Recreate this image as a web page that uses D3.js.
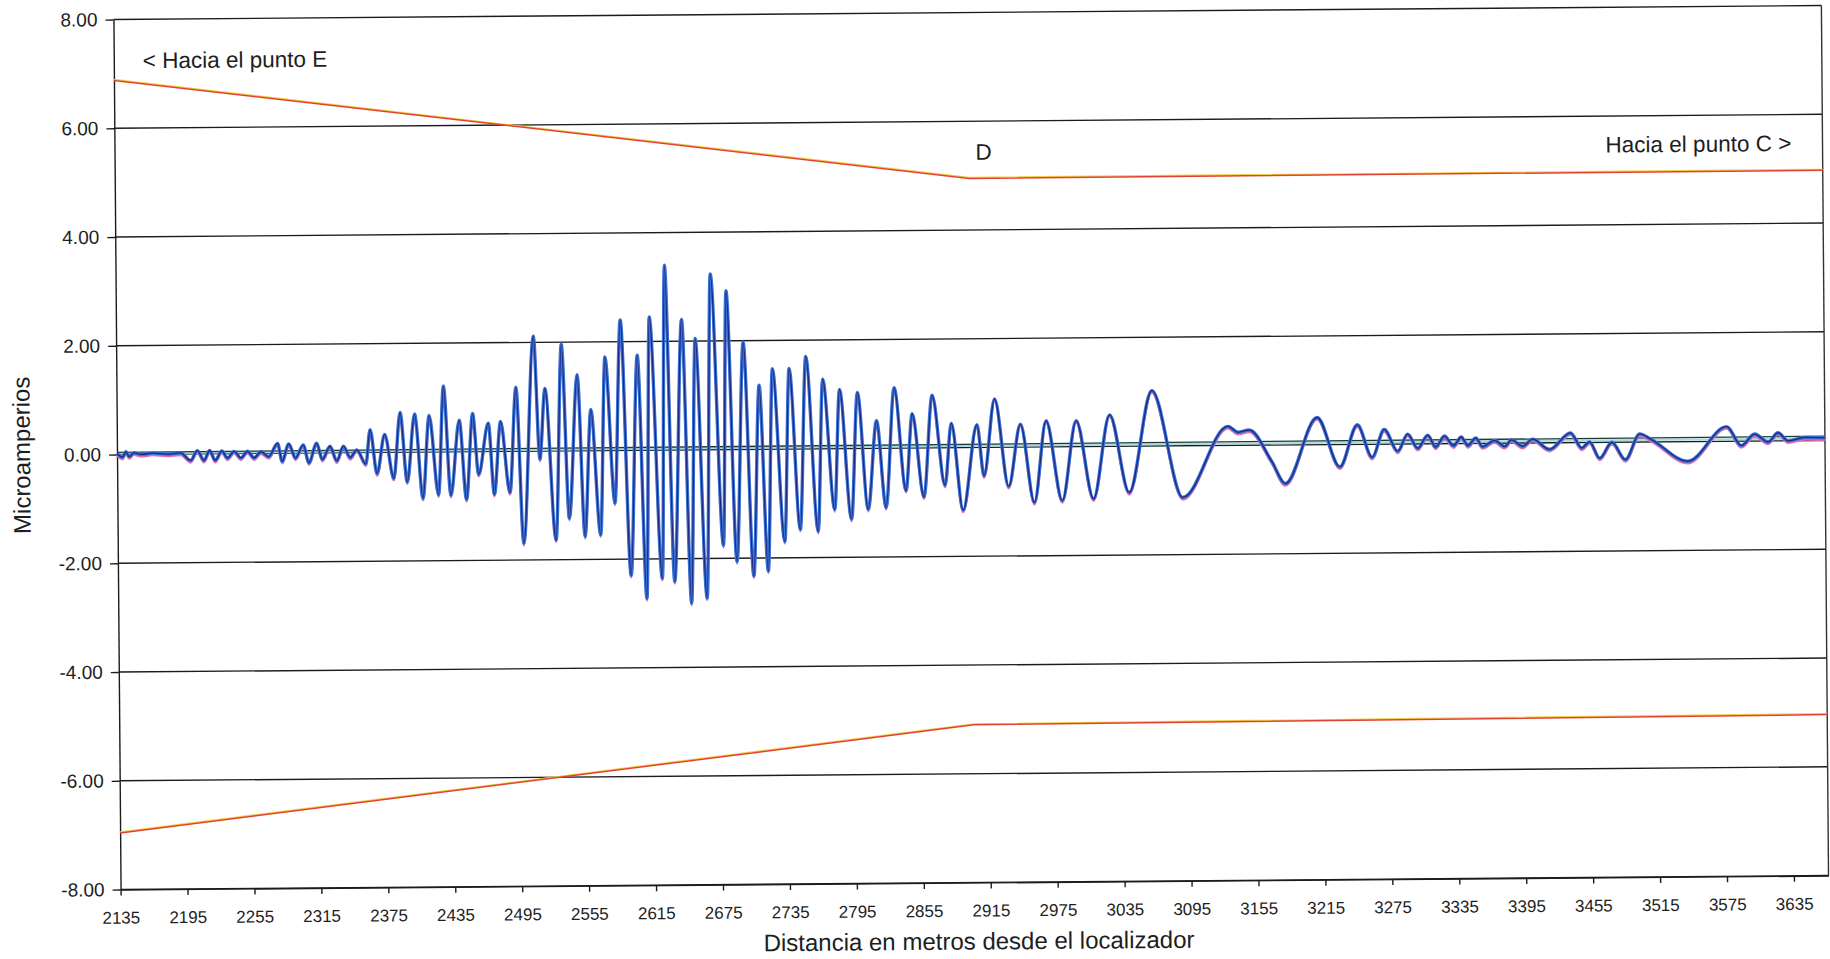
<!DOCTYPE html>
<html><head><meta charset="utf-8">
<script src="https://cdn.jsdelivr.net/npm/d3@7"></script>
<style>
html,body{margin:0;padding:0;background:#fff;}
svg{display:block;}
text{font-family:"Liberation Sans", Arial, sans-serif; fill:#1e1e1e;}
</style></head><body>
<svg id="chart" width="1830" height="959"></svg>
<script>
// ---------- data ----------
const yTicks = [8, 6, 4, 2, 0, -2, -4, -6, -8];
const xTicks = [2135, 2195, 2255, 2315, 2375, 2435, 2495, 2555, 2615, 2675, 2735, 2795, 2855,
  2915, 2975, 3035, 3095, 3155, 3215, 3275, 3335, 3395, 3455, 3515, 3575, 3635];

const signalDist = [2135, 2140, 2143, 2146, 2150, 2157, 2167, 2180, 2192,
  2201, 2207, 2213, 2218, 2223, 2229, 2234, 2240, 2246, 2252, 2258, 2264, 2271,
  2279, 2283, 2289, 2295, 2302, 2307, 2314, 2319, 2326, 2332, 2338, 2344, 2350,
  2358, 2362, 2368, 2375, 2383, 2389, 2395, 2402, 2409, 2415, 2423, 2428, 2434,
  2442, 2448, 2454, 2459, 2468, 2473, 2479, 2487, 2493, 2499, 2509, 2514, 2519,
  2528, 2534, 2540, 2548, 2554, 2560, 2568, 2573, 2581, 2587, 2595, 2602, 2609,
  2613, 2623, 2627, 2634, 2642, 2649, 2654, 2663, 2668, 2678, 2682, 2690, 2697,
  2705, 2711, 2718, 2723, 2733, 2738, 2747, 2753, 2763, 2768, 2778, 2783, 2793,
  2799, 2808, 2816, 2824, 2832, 2842, 2848, 2858, 2866, 2877, 2883, 2893, 2906,
  2912, 2922, 2934, 2945, 2957, 2968, 2982, 2995, 3010, 3025, 3042, 3063, 3090,
  3131, 3140, 3150, 3170, 3182, 3211, 3231, 3247, 3260, 3271, 3283, 3292, 3301,
  3310, 3317, 3325, 3333, 3340, 3346, 3353, 3359, 3370, 3379, 3385, 3395, 3404,
  3419, 3438, 3448, 3455, 3464, 3475, 3487, 3500, 3510, 3543, 3578, 3591, 3603,
  3615, 3624, 3633, 3648, 3666];
const signalVal = [0.02, -0.05, 0.05, -0.04, 0.03, 0.0, 0.02, 0.0, 0.02,
  -0.12, 0.06, -0.12, 0.06, -0.12, 0.05, -0.08, 0.04, -0.08, 0.04, -0.08, 0.03, -0.06,
  0.18, -0.15, 0.17, -0.09, 0.15, -0.18, 0.18, -0.12, 0.12, -0.15, 0.12, -0.09, 0.05,
  -0.21, 0.42, -0.39, 0.33, -0.48, 0.73, -0.55, 0.70, -0.85, 0.67, -0.79, 1.21, -0.80,
  0.58, -0.88, 0.70, -0.42, 0.52, -0.79, 0.55, -0.76, 1.18, -1.70, 2.12, -0.15, 1.15,
  -1.64, 1.96, -1.24, 1.40, -1.58, 0.76, -1.55, 1.72, -0.97, 2.40, -2.30, 1.75, -2.73,
  2.45, -2.36, 3.40, -2.42, 2.40, -2.82, 2.05, -2.73, 3.23, -1.76, 2.92, -2.06, 1.97,
  -2.33, 1.18, -2.24, 1.48, -1.70, 1.48, -1.48, 1.70, -1.52, 1.28, -1.12, 1.09, -1.30,
  1.03, -1.12, 0.51, -1.09, 1.11, -0.78, 0.63, -0.90, 0.97, -0.69, 0.45, -1.15, 0.42,
  -0.52, 0.89, -0.72, 0.42, -1.02, 0.48, -0.99, 0.48, -0.96, 0.58, -0.85, 1.02, -0.95,
  0.35, 0.24, 0.28, -0.30, -0.71, 0.50, -0.41, 0.36, -0.24, 0.27, -0.13, 0.18, -0.08,
  0.16, -0.06, 0.14, -0.04, 0.12, -0.04, 0.10, -0.06, 0.05, -0.06, 0.06, -0.06, 0.07,
  -0.12, 0.18, -0.10, 0.01, -0.29, 0.00, -0.32, 0.15, 0.05, -0.36, 0.27, -0.08, 0.13,
  -0.02, 0.15, 0.00, 0.06, 0.05];

// limit envelope (orange lines)
const limitDist = [2135, 2901, 3666];
const upperVal = [6.88, 4.95, 4.97];
const lowerVal = [-6.96, -5.10, -5.04];

// reference lines near zero
const refDist = [2135, 3666];
const refDarkVal = [0.04, 0.08];
const refLightVal = [0.02, 0.04];

const labelE = "< Hacia el punto E";
const labelD = "D";
const labelC = "Hacia el punto C >";
const yTitle = "Microamperios";
const xTitle = "Distancia en metros desde el localizador";

// ---------- drawing ----------
const plot = {left: 117, right: 1825, top: 13, bottom: 883};
const x = d3.scaleLinear().domain([2135, 3666]).range([plot.left, plot.right]);
const y = d3.scaleLinear().domain([-8, 8]).range([plot.bottom, plot.top]);

const svg = d3.select('#chart');
const root = svg.append('g').attr('transform', 'rotate(-0.47 915 450)');

// gridlines
root.append('g').selectAll('line').data(yTicks).join('line')
  .attr('x1', plot.left).attr('x2', plot.right)
  .attr('y1', d => y(d)).attr('y2', d => y(d))
  .attr('stroke', '#1c1c1c').attr('stroke-width', 1.4);
// right border
root.append('line')
  .attr('x1', plot.right).attr('x2', plot.right)
  .attr('y1', plot.top).attr('y2', plot.bottom)
  .attr('stroke', '#333').attr('stroke-width', 1.4);

// y axis
const yAxis = root.append('g').attr('transform', `translate(${plot.left},0)`)
  .call(d3.axisLeft(y).tickValues(yTicks).tickFormat(d => d.toFixed(2))
    .tickSizeInner(8).tickSizeOuter(0).tickPadding(8));
yAxis.selectAll('text').style('font-size', '19px').attr('fill', '#1e1e1e');
yAxis.selectAll('path,line').attr('stroke', '#1c1c1c').attr('stroke-width', 1.4);

// x axis
const xAxis = root.append('g').attr('transform', `translate(0,${plot.bottom})`)
  .call(d3.axisBottom(x).tickValues(xTicks).tickFormat(d3.format('d'))
    .tickSizeInner(6).tickSizeOuter(0).tickPadding(16));
xAxis.selectAll('text').style('font-size', '17px').attr('fill', '#1e1e1e');
xAxis.selectAll('path,line').attr('stroke', '#1c1c1c').attr('stroke-width', 1.4);

// helpers
const line2 = (ds, vs) => d3.line().x((d, i) => x(ds[i])).y(d => y(d));

// reference lines near zero
root.append('path').datum(refLightVal)
  .attr('d', line2(refDist, refLightVal)).attr('fill', 'none')
  .attr('stroke', '#a6dde3').attr('stroke-width', 2.2);
root.append('path').datum(refDarkVal)
  .attr('d', line2(refDist, refDarkVal)).attr('fill', 'none')
  .attr('stroke', '#1f3a33').attr('stroke-width', 1.3);

// limit envelope
[upperVal, lowerVal].forEach(vals => {
  root.append('path').datum(vals)
    .attr('d', line2(limitDist, vals)).attr('fill', 'none')
    .attr('transform', 'translate(0,-1)')
    .attr('stroke', '#f2cf48').attr('stroke-width', 1.3);
  root.append('path').datum(vals)
    .attr('d', line2(limitDist, vals)).attr('fill', 'none')
    .attr('stroke', '#e2432e').attr('stroke-width', 1.5);
});

// signal
const sigLine = d3.line().curve(d3.curveMonotoneX)
  .x((d, i) => x(signalDist[i])).y(d => y(d));
root.append('path').datum(signalVal).attr('d', sigLine)
  .attr('fill', 'none').attr('transform', 'translate(0,2)')
  .attr('stroke', '#e46fb0').attr('stroke-width', 2.4);
root.append('path').datum(signalVal).attr('d', sigLine)
  .attr('fill', 'none').attr('stroke', '#3a72d4').attr('stroke-width', 3.4);
root.append('path').datum(signalVal).attr('d', sigLine)
  .attr('fill', 'none').attr('stroke', '#1b2a86').attr('stroke-width', 1.3);

// annotations
root.append('text').attr('x', x(2161)).attr('y', y(7.1))
  .style('font-size', '22.5px').text(labelE);
root.append('text').attr('x', x(2914)).attr('y', y(5.29)).attr('text-anchor', 'middle')
  .style('font-size', '22.5px').text(labelD);
root.append('text').attr('x', x(3638)).attr('y', y(5.33)).attr('text-anchor', 'end')
  .style('font-size', '22.5px').text(labelC);

// axis titles
root.append('text')
  .attr('transform', `translate(30,${(plot.top + plot.bottom) / 2}) rotate(-90)`)
  .attr('text-anchor', 'middle').style('font-size', '24px').text(yTitle);
root.append('text').attr('x', 975).attr('y', 950).attr('text-anchor', 'middle')
  .style('font-size', '24px').text(xTitle);
</script>
</body></html>
